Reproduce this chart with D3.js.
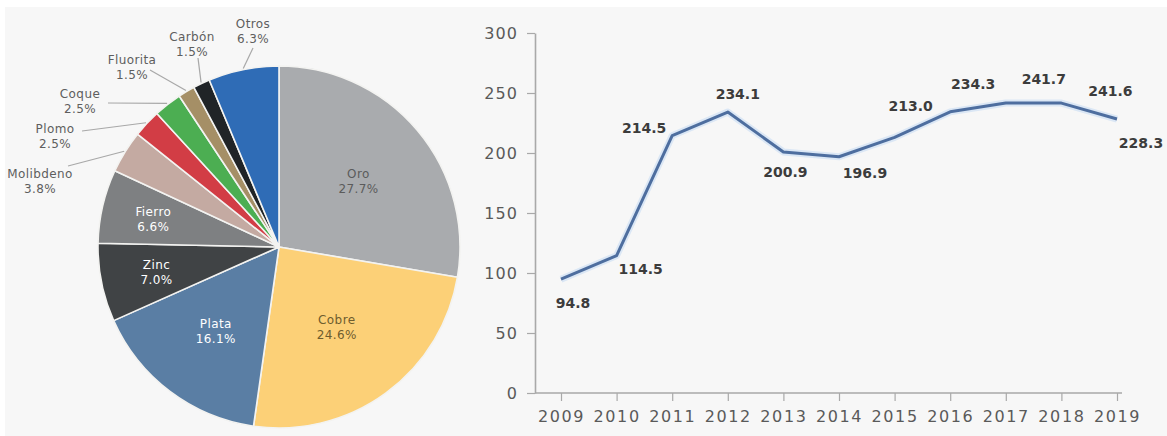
<!DOCTYPE html>
<html>
<head>
<meta charset="utf-8">
<script src="https://cdn.jsdelivr.net/npm/d3@7"></script>
<style>
  html, body { margin: 0; padding: 0; background: #ffffff; }
  svg { display: block; }
</style>
</head>
<body>
<svg id="chart" width="1167" height="436"></svg>
<script>
// Mineral share of production value (%)
const minerals = ["Oro", "Cobre", "Plata", "Zinc", "Fierro", "Molibdeno", "Plomo", "Coque", "Fluorita", "Carbón", "Otros"];
const shares   = [27.7, 24.6, 16.1, 7.0, 6.6, 3.8, 2.5, 2.5, 1.5, 1.5, 6.3];
const sliceColors = ["#a9abae", "#fcd077", "#5a7ea4", "#404345", "#7e8082", "#c4aaa2", "#d23d45", "#4cae52", "#a58f66", "#202427", "#2f6cb6"];

// Yearly totals
const years  = ["2009", "2010", "2011", "2012", "2013", "2014", "2015", "2016", "2017", "2018", "2019"];
const totals = [94.8, 114.5, 214.5, 234.1, 200.9, 196.9, 213.0, 234.3, 241.7, 241.6, 228.3];
const yTicks = [0, 50, 100, 150, 200, 250, 300];

const svg = d3.select("#chart");
const FONT = "'DejaVu Sans', 'Noto Sans', sans-serif";

// panel background
svg.append("rect").attr("x", 5).attr("y", 7).attr("width", 1162).attr("height", 429).attr("fill", "#f7f7f7");

/* ---------------- Pie ---------------- */
const cx = 279, cy = 247, R = 181;
const pieG = svg.append("g").attr("transform", `translate(${cx},${cy})`);
const pie = d3.pie().sort(null).value(d => d.v);
const slices = pie(minerals.map((m, i) => ({ name: m, v: shares[i], color: sliceColors[i] })));
const arc = d3.arc().innerRadius(0).outerRadius(R);

pieG.selectAll("path.slice").data(slices).join("path")
  .attr("class", "slice")
  .attr("d", arc)
  .attr("fill", d => d.data.color)
  .attr("stroke", "#f3f3f1")
  .attr("stroke-width", 1.6)
  .attr("stroke-linejoin", "round");

// labels inside the larger slices
const innerStyle = {
  "Oro":    { r: 104, fill: "#5b5b5b" },
  "Cobre":  { r: 98,  fill: "#6e5c2e" },
  "Plata":  { r: 105, fill: "#ffffff" },
  "Zinc":   { r: 125, fill: "#ffffff" },
  "Fierro": { r: 129, fill: "#ffffff" }
};
const midAngle = d => (d.startAngle + d.endAngle) / 2;
slices.filter(d => innerStyle[d.data.name]).forEach(d => {
  const st = innerStyle[d.data.name];
  const a = midAngle(d);
  const x = Math.sin(a) * st.r, y = -Math.cos(a) * st.r;
  const t = pieG.append("text")
    .attr("x", x).attr("y", y)
    .attr("text-anchor", "middle")
    .attr("font-family", FONT).attr("font-size", 12).attr("letter-spacing", 0.4)
    .attr("fill", st.fill);
  t.append("tspan").attr("x", x).attr("dy", "-0.2em").text(d.data.name);
  t.append("tspan").attr("x", x).attr("dy", "1.25em").text(d3.format(".1f")(d.data.v) + "%");
});

// callout labels for the narrow slices (label centre and leader start, relative to pie centre)
const calloutSpots = {
  "Molibdeno": { tx: -239, ty: -67,  lx: -211, ly: -81 },
  "Plomo":     { tx: -224, ty: -112, lx: -197, ly: -116 },
  "Coque":     { tx: -199, ty: -147, lx: -171, ly: -144 },
  "Fluorita":  { tx: -147, ty: -181, lx: -129, ly: -177 },
  "Carbón":    { tx: -87,  ty: -204, lx: -81,  ly: -189 },
  "Otros":     { tx: -26,  ty: -217, lx: -26,  ly: -199 }
};
slices.filter(d => calloutSpots[d.data.name]).forEach(d => {
  const sp = calloutSpots[d.data.name];
  const a = midAngle(d);
  const ex = Math.sin(a) * (R + 1), ey = -Math.cos(a) * (R + 1);
  pieG.append("line")
    .attr("x1", sp.lx).attr("y1", sp.ly).attr("x2", ex).attr("y2", ey)
    .attr("stroke", "#a8a8a8").attr("stroke-width", 1.2);
  const t = pieG.append("text")
    .attr("x", sp.tx).attr("y", sp.ty)
    .attr("text-anchor", "middle")
    .attr("font-family", FONT).attr("font-size", 12).attr("letter-spacing", 0.4)
    .attr("fill", "#5e5e5e");
  t.append("tspan").attr("x", sp.tx).attr("dy", "-0.2em").text(d.data.name);
  t.append("tspan").attr("x", sp.tx).attr("dy", "1.25em").text(d3.format(".1f")(d.data.v) + "%");
});

/* ---------------- Line chart ---------------- */
const x = d3.scalePoint().domain(years).range([561, 1117]);
const y = d3.scaleLinear().domain([0, 300]).range([393, 33]);
const axisColor = "#a9a9a9";

const yAxis = svg.append("g").attr("transform", "translate(535,0)")
  .call(d3.axisLeft(y).tickValues(yTicks).tickSize(8).tickPadding(9).tickSizeOuter(0));
yAxis.select(".domain").attr("stroke", axisColor).attr("stroke-width", 1.6);
yAxis.selectAll(".tick line").attr("stroke", axisColor).attr("stroke-width", 1.2);
yAxis.selectAll(".tick text")
  .attr("font-family", FONT).attr("font-size", 16).attr("letter-spacing", 1.1)
  .attr("fill", "#5a5a5a");

const xAxis = svg.append("g").attr("transform", "translate(0,393)");
xAxis.append("line").attr("x1", 535).attr("x2", 1122).attr("y1", 0).attr("y2", 0)
  .attr("stroke", axisColor).attr("stroke-width", 1.6);
xAxis.call(g => {
  const ax = d3.axisBottom(x).tickSize(8).tickPadding(10).tickSizeOuter(0);
  const sub = g.append("g").call(ax);
  sub.select(".domain").remove();
  sub.selectAll(".tick line").attr("stroke", axisColor).attr("stroke-width", 1.2);
  sub.selectAll(".tick text")
    .attr("font-family", FONT).attr("font-size", 16).attr("letter-spacing", 1.6)
    .attr("fill", "#5a5a5a");
});

const pts = years.map((yr, i) => ({ yr, v: totals[i] }));
const line = d3.line().x(d => x(d.yr)).y(d => y(d.v));

svg.append("path").datum(pts)
  .attr("d", line).attr("fill", "none")
  .attr("stroke", "#dbe7f5").attr("stroke-width", 7).attr("stroke-linejoin", "round");
svg.append("path").datum(pts)
  .attr("d", line).attr("fill", "none")
  .attr("stroke", "#4e6e9f").attr("stroke-width", 3).attr("stroke-linejoin", "round");

// value label offsets from each point
const labelOffsets = [[12, 24], [24, 13], [-28, -8], [10, -18], [2, 20], [26, 16], [16, -31], [23, -28], [38, -24], [49, -12], [24, 24]];
svg.append("g").selectAll("text").data(pts).join("text")
  .attr("x", (d, i) => x(d.yr) + labelOffsets[i][0])
  .attr("y", (d, i) => y(d.v) + labelOffsets[i][1])
  .attr("dy", "0.36em")
  .attr("text-anchor", "middle")
  .attr("font-family", FONT).attr("font-size", 14).attr("font-weight", "bold")
  .attr("fill", "#3c3c3c")
  .text(d => d3.format(".1f")(d.v));
</script>
</body>
</html>
